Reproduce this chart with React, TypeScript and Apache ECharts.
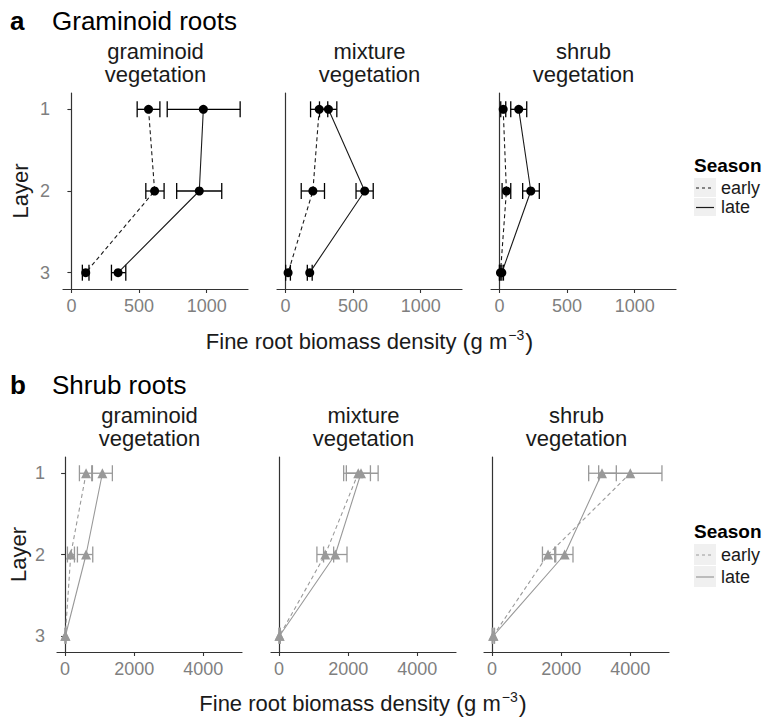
import React, { useEffect, useRef } from 'react';
import * as echarts from 'echarts';

const layers = [1, 2, 3];
const yTicks = [1, 2, 3];
const facetTitles = ['graminoid\nvegetation', 'mixture\nvegetation', 'shrub\nvegetation'];
const xTicksA = [0, 500, 1000];
const xTicksB = [0, 2000, 4000];

// Panel a: graminoid roots (g m^-3) — mean, lower, upper per layer 1..3
const aGramEarly = [570, 615, 106];
const aGramEarlyLo = [486, 550, 81];
const aGramEarlyHi = [654, 685, 130];
const aGramLate = [975, 945, 345];
const aGramLateLo = [708, 778, 296];
const aGramLateHi = [1247, 1111, 402];

const aMixEarly = [250, 203, 20];
const aMixEarlyLo = [186, 117, 2];
const aMixEarlyHi = [313, 289, 37];
const aMixLate = [318, 586, 180];
const aMixLateLo = [252, 522, 162];
const aMixLateHi = [380, 649, 198];

const aShrubEarly = [28, 52, 8];
const aShrubEarlyLo = [10, 20, 0];
const aShrubEarlyHi = [47, 84, 18];
const aShrubLate = [143, 232, 18];
const aShrubLateLo = [84, 172, 6];
const aShrubLateHi = [202, 295, 30];

// Panel b: shrub roots
const bGramEarly = [607, 164, 5];
const bGramEarlyLo = [414, 67, 0];
const bGramEarlyHi = [790, 270, 20];
const bGramLate = [1079, 607, 10];
const bGramLateLo = [771, 356, 0];
const bGramLateHi = [1368, 800, 25];

const bMixEarly = [2290, 1336, 10];
const bMixEarlyLo = [1868, 1094, 0];
const bMixEarlyHi = [2643, 1578, 30];
const bMixLate = [2370, 1626, 15];
const bMixLateLo = [1946, 1287, 0];
const bMixLateHi = [2866, 1965, 35];

const bShrubEarly = [4000, 1620, 30];
const bShrubEarlyLo = [3084, 1457, 5];
const bShrubEarlyHi = [4916, 1812, 55];
const bShrubLate = [3180, 2100, 40];
const bShrubLateLo = [2795, 1841, 10];
const bShrubLateHi = [3595, 2341, 70];

const FONT = '"Liberation Sans", Arial, Helvetica, sans-serif';

type Season = { mean: number[]; lo: number[]; hi: number[] };
type Facet = { early: Season; late: Season };

const rowA: Facet[] = [
  { early: { mean: aGramEarly, lo: aGramEarlyLo, hi: aGramEarlyHi }, late: { mean: aGramLate, lo: aGramLateLo, hi: aGramLateHi } },
  { early: { mean: aMixEarly, lo: aMixEarlyLo, hi: aMixEarlyHi }, late: { mean: aMixLate, lo: aMixLateLo, hi: aMixLateHi } },
  { early: { mean: aShrubEarly, lo: aShrubEarlyLo, hi: aShrubEarlyHi }, late: { mean: aShrubLate, lo: aShrubLateLo, hi: aShrubLateHi } },
];
const rowB: Facet[] = [
  { early: { mean: bGramEarly, lo: bGramEarlyLo, hi: bGramEarlyHi }, late: { mean: bGramLate, lo: bGramLateLo, hi: bGramLateHi } },
  { early: { mean: bMixEarly, lo: bMixEarlyLo, hi: bMixEarlyHi }, late: { mean: bMixLate, lo: bMixLateLo, hi: bMixLateHi } },
  { early: { mean: bShrubEarly, lo: bShrubEarlyLo, hi: bShrubEarlyHi }, late: { mean: bShrubLate, lo: bShrubLateLo, hi: bShrubLateHi } },
];

function buildOption() {
  const grid: any[] = [];
  const xAxis: any[] = [];
  const yAxis: any[] = [];
  const series: any[] = [];
  const graphic: any[] = [];

  const rows = [
    {
      facets: rowA, top: 93, height: 196, lefts: [63, 277, 491], width: 185,
      xmin: -62, xmax: 1305, ticks: xTicksA, color: '#000000', lineColor: '#1a1a1a',
      symbol: 'circle', symbolSize: 9, ylabelMargin: 13,
      title: 'Graminoid roots', letter: 'a', titleY: 21, stripY: 63, xTitleY: 341, layerX: 20,
      legendTitleY: 165, legendY: [188, 207], legendBox: [178, 198, 217],
    },
    {
      facets: rowB, top: 457, height: 195, lefts: [57, 271, 484], width: 185,
      xmin: -235, xmax: 5120, ticks: xTicksB, color: '#999999', lineColor: '#999999',
      symbol: 'triangle', symbolSize: 10, ylabelMargin: 12,
      title: 'Shrub roots', letter: 'b', titleY: 385, stripY: 427, xTitleY: 703, layerX: 18,
      legendTitleY: 531, legendY: [555, 577], legendBox: [544, 566, 588],
    },
  ];

  rows.forEach((row) => {
    row.facets.forEach((facet, f) => {
      const k = grid.length;
      const left = row.lefts[f];
      grid.push({ left, top: row.top, width: row.width, height: row.height, containLabel: false });
      xAxis.push({
        type: 'value', gridIndex: k, min: row.xmin, max: row.xmax,
        axisLine: { show: true, lineStyle: { color: '#333333', width: 1.2 } },
        axisTick: { show: true, length: 4, customValues: row.ticks, lineStyle: { color: '#333333', width: 1.1 } },
        axisLabel: {
          show: true, customValues: row.ticks, color: '#7f7f7f', fontSize: 18, fontFamily: FONT, margin: 8,
          formatter: (v: number) => String(v),
        },
        splitLine: { show: false },
      });
      yAxis.push({
        type: 'value', gridIndex: k, inverse: true, min: 0.8, max: 3.2,
        axisLine: { show: true, lineStyle: { color: '#333333', width: 1.2 } },
        axisTick: { show: f === 0, length: 4, customValues: yTicks, lineStyle: { color: '#333333', width: 1.1 } },
        axisLabel: {
          show: f === 0, customValues: yTicks, color: '#7f7f7f', fontSize: 18, fontFamily: FONT, margin: row.ylabelMargin,
          formatter: (v: number) => String(v),
        },
        splitLine: { show: false },
      });
      (['early', 'late'] as const).forEach((sk) => {
        const s = facet[sk];
        series.push({
          type: 'custom', xAxisIndex: k, yAxisIndex: k, silent: true, z: 2,
          data: layers.map((l, i) => [s.mean[i], l, s.lo[i], s.hi[i]]),
          encode: { x: [0, 2, 3], y: 1 },
          renderItem: (params: any, api: any) => {
            const y = api.value(1);
            const p1 = api.coord([api.value(2), y]);
            const p2 = api.coord([api.value(3), y]);
            const h = 8;
            const style = { stroke: row.color, lineWidth: 1.3, fill: null };
            return {
              type: 'group',
              children: [
                { type: 'line', shape: { x1: p1[0], y1: p1[1], x2: p2[0], y2: p2[1] }, style },
                { type: 'line', shape: { x1: p1[0], y1: p1[1] - h, x2: p1[0], y2: p1[1] + h }, style },
                { type: 'line', shape: { x1: p2[0], y1: p2[1] - h, x2: p2[0], y2: p2[1] + h }, style },
              ],
            };
          },
        });
        series.push({
          type: 'line', name: sk, xAxisIndex: k, yAxisIndex: k, z: 3,
          data: layers.map((l, i) => [s.mean[i], l]),
          symbol: row.symbol, symbolSize: row.symbolSize, showSymbol: true,
          lineStyle: { color: row.lineColor, width: 1.1, type: sk === 'early' ? [4, 3] : 'solid' },
          itemStyle: { color: row.color },
          silent: true,
        });
      });
      graphic.push({
        type: 'text', x: left + row.width / 2, y: row.stripY,
        style: { text: facetTitles[f], fill: '#1a1a1a', fontSize: 22, fontFamily: FONT, align: 'center', verticalAlign: 'middle', lineHeight: 23 },
      });
    });

    graphic.push({ type: 'text', x: 10, y: row.titleY, style: { text: row.letter, fill: '#000', fontSize: 26, fontWeight: 'bold', fontFamily: FONT, verticalAlign: 'middle' } });
    graphic.push({ type: 'text', x: 52, y: row.titleY, style: { text: row.title, fill: '#000', fontSize: 26, fontFamily: FONT, verticalAlign: 'middle' } });

    graphic.push({
      type: 'text', x: row.layerX, y: row.top + row.height / 2, rotation: Math.PI / 2,
      style: { text: 'Layer', fill: '#1a1a1a', fontSize: 22, fontFamily: FONT, align: 'center', verticalAlign: 'middle' },
    });

    const cx = (row.lefts[0] + row.lefts[2] + row.width) / 2;
    graphic.push({
      type: 'text', x: cx, y: row.xTitleY,
      style: {
        text: '{a|Fine root biomass density }{p|(}{a|g m}{s|\u22123}{p|)}',
        align: 'center', verticalAlign: 'middle', fill: '#1a1a1a', fontFamily: FONT,
        rich: {
          a: { fontSize: 22, fontFamily: FONT, fill: '#1a1a1a', lineHeight: 26 },
          p: { fontSize: 24, fontFamily: FONT, fill: '#1a1a1a', lineHeight: 26 },
          s: { fontSize: 14, fontFamily: FONT, fill: '#1a1a1a', lineHeight: 26, verticalAlign: 'top', padding: [0, 1, 0, 1] },
        },
      },
    });

    const lx = 694;
    graphic.push({ type: 'text', x: lx, y: row.legendTitleY, style: { text: 'Season', fill: '#000', fontSize: 19, fontWeight: 'bold', fontFamily: FONT, verticalAlign: 'middle' } });
    ['early', 'late'].forEach((sk, i) => {
      const y0 = row.legendBox[i];
      const y1 = row.legendBox[i + 1];
      graphic.push({ type: 'rect', shape: { x: lx, y: y0, width: 22, height: y1 - y0 - 1 }, style: { fill: '#f0f0f0' } });
      const ym = (y0 + y1) / 2;
      graphic.push({
        type: 'line', shape: { x1: lx + 2, y1: ym, x2: lx + 20, y2: ym },
        style: { stroke: row.lineColor, lineWidth: 1.2, lineDash: sk === 'early' ? [3, 3] : null },
      });
      graphic.push({ type: 'text', x: lx + 27, y: row.legendY[i], style: { text: sk, fill: '#1a1a1a', fontSize: 18, fontFamily: FONT, verticalAlign: 'middle' } });
    });
  });

  return { animation: false, backgroundColor: '#ffffff', grid, xAxis, yAxis, series, graphic };
}

export default function App() {
  const ref = useRef<HTMLDivElement>(null);
  useEffect(() => {
    if (!ref.current) return;
    const chart = echarts.init(ref.current, undefined, { renderer: 'svg' });
    chart.setOption(buildOption() as any);
    return () => chart.dispose();
  }, []);
  return <div ref={ref} style={{ position: 'fixed', left: 0, top: 0, width: 773, height: 719, background: '#fff' }} />;
}
